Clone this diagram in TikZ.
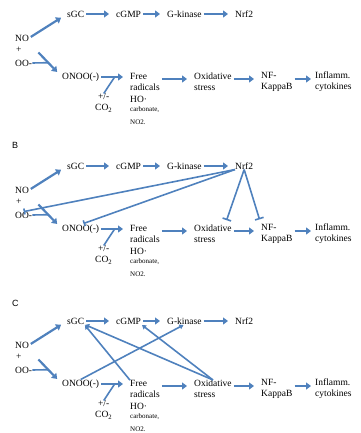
\documentclass[tikz,border=0pt]{standalone}
\usepackage{fontspec}
\setmainfont{Liberation Serif}
\newfontfamily\panelfont{Liberation Sans}
\usetikzlibrary{positioning,arrows.meta}
\definecolor{arrowblue}{RGB}{79,129,189}

\begin{document}
\begin{tikzpicture}[x=1pt,y=-1pt,
	txt/.style={inner sep=0pt,anchor=west,align=left,font=\fontsize{9.5}{11}\selectfont},
	small/.style={txt,font=\fontsize{7}{8}\selectfont},
	flow/.style={draw=arrowblue,line width=2.2pt,shorten <=2pt,shorten >=7pt,
		-{Triangle[length=5pt,width=7pt]}},
	link/.style={draw=arrowblue,line width=1.6pt},
	cross/.style={link,shorten >=1pt,-{Triangle[length=4pt,width=5pt]}},
	block/.style={link,-{Bar[width=9pt]}}]

	\useasboundingbox (0,0) rectangle (360,433);
	\node[txt,font=\panelfont\fontsize{9}{10}\selectfont] (lb) at (12,145) {B};
	\node[txt,font=\panelfont\fontsize{9}{10}\selectfont] (lc) at (12,303) {C};

	\foreach \p/\dy in {a/0,b/152,c/307} {
	\begin{scope}[yshift=-\dy pt]
		\node[txt] (\p-sgc) at (67,14) {sGC};
		\node[txt] (\p-cgmp) at (116,14) {cGMP};
		\node[txt] (\p-gk) at (167,14) {G-kinase};
		\node[txt] (\p-nrf) at (235,14) {Nrf2};
		\node[txt] (\p-no) at (15,38) {NO};
		\node[txt] (\p-plus) at (16,50) {+};
		\node[txt] (\p-oo) at (15,63) {OO-};
		\node[txt] (\p-onoo) at (62,77) {ONOO(-)};
		\node[txt,align=center] (\p-co) at (95,103) {+/-\\CO\textsubscript{2}};
		\node[txt] (\p-free) at (130,82) {Free\\radicals};
		\node[txt] (\p-ho) at (130,99) {HO·};
		\node[small,below=4pt of \p-ho.south west,anchor=north west] (\p-carb) {carbonate,};
		\node[small,below=7pt of \p-carb.south west,anchor=north west] (\p-nitro) {NO2.};
		\node[txt] (\p-ox) at (194,82) {Oxidative\\stress};
		\node[txt] (\p-nfkb) at (261,82) {NF-\\KappaB};
		\node[txt] (\p-infl) at (315,82) {Inflamm.\\cytokines};
		\coordinate (\p-in) at (37,51);

		\draw[flow] (\p-no.east) -- (\p-sgc.west);
		\draw[flow] (\p-sgc) -- (\p-cgmp);
		\draw[flow] (\p-cgmp) -- (\p-gk);
		\draw[flow] (\p-gk) -- (\p-nrf);
		\draw[flow] (\p-in) -- coordinate[pos=.45] (\p-join) (\p-onoo.west);
		\draw[link] (\p-oo.east) -- (\p-join);
		\draw[flow] (\p-onoo.east) -- coordinate[pos=.5] (\p-mix) (\p-onoo.east -| \p-free.west);
		\draw[link] (\p-co.north) -- (\p-mix);
		\draw[flow] ([yshift=3pt]\p-free.east) -- ([yshift=3pt]\p-ox.west);
		\draw[flow] ([yshift=3pt]\p-ox.east) -- ([yshift=3pt]\p-nfkb.west);
		\draw[flow,shorten >=4pt] ([yshift=3pt]\p-nfkb.east) -- ([yshift=3pt]\p-infl.west);
	\end{scope}
	}

	\draw[block,-{Bar[width=6pt]}] (b-nrf.south west) -- (b-oo.north);
	\draw[block,-{Bar[width=6pt]},shorten >=3pt] (b-nrf.south west) -- (b-onoo.north);
	\draw[block,shorten >=5pt] (b-nrf.south) -- ([xshift=12pt]b-ox.north);
	\draw[block,shorten >=5pt] (b-nrf.south) -- (b-nfkb.north west);

	\draw[cross] (c-free.north west) -- (c-sgc.south east);
	\draw[cross] (c-ox.north) -- (c-sgc.south east);
	\draw[cross] (c-ox.north) -- (c-cgmp.south east);
	\draw[cross] (c-onoo.north) -- (c-gk.south);

\end{tikzpicture}
\end{document}
